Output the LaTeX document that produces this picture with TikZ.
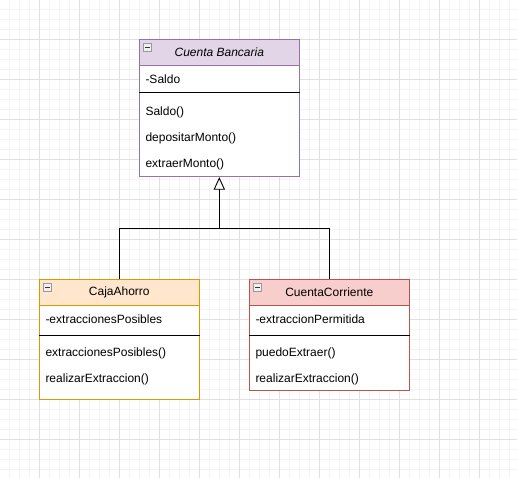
\documentclass[tikz,border=0pt]{standalone}
\usepackage{fontspec}
\setmainfont{Liberation Sans}
\usetikzlibrary{arrows.meta}
\definecolor{lilarand}{HTML}{9673A6}
\definecolor{lilafill}{HTML}{E1D5E7}
\definecolor{orangerand}{HTML}{D79B00}
\definecolor{orangefill}{HTML}{FFE6CC}
\definecolor{rotrand}{HTML}{B85450}
\definecolor{rotfill}{HTML}{F8CECC}
\definecolor{rasterfein}{HTML}{F4F4F4}
\definecolor{rastergrob}{HTML}{E0E0E0}
\tikzset{
  klasse/.style={draw, fill=white, minimum width=160pt, inner sep=0pt, line width=0.8pt},
  kopf/.style={draw, minimum width=160pt, minimum height=25.7pt, inner sep=0pt,
    line width=0.8pt, anchor=north, font=\fontsize{12}{14}\selectfont},
  eintrag/.style={anchor=west, inner sep=0pt, text height=8.6pt, text depth=0pt,
    font=\fontsize{12}{14}\selectfont},
  minus/.style={draw=gray!80, fill=gray!12, minimum size=8pt, inner sep=0pt, line width=0.6pt,
    path picture={\draw[line width=1.3pt, black!80]
      ([xshift=1.8pt]path picture bounding box.west) -- ([xshift=-1.8pt]path picture bounding box.east);}},
  trenner/.style={line width=0.8pt}
}
\begin{document}
\begin{tikzpicture}[x=1pt, y=-1pt, >=latex]
% Hintergrund mit Raster
\fill[white] (0,0) rectangle (517,478);
\useasboundingbox (0,0) rectangle (517,478);
\foreach \x in {9.5,19.5,...,517} {
    \draw[rasterfein, line width=0.8pt] (\x,0) -- (\x,478);
}
\foreach \y in {9.5,19.5,...,478} {
    \draw[rasterfein, line width=0.8pt] (0,\y) -- (517,\y);
}
\foreach \x in {39.5,79.5,...,517} {
    \draw[rastergrob, line width=0.8pt] (\x,0) -- (\x,478);
}
\foreach \y in {39.5,79.5,...,478} {
    \draw[rastergrob, line width=0.8pt] (0,\y) -- (517,\y);
}
% Oberklasse Cuenta Bancaria
\node[klasse, draw=lilarand, minimum height=137.4pt] (bancaria) at (219.3,108) {};
\node[kopf, draw=lilarand, fill=lilafill] (bancariakopf) at (bancaria.north) {\itshape Cuenta Bancaria};
\node[minus] (bancariaminus) at ([xshift=8.7pt, yshift=-8.7pt]bancariakopf.north west) {};
\draw[trenner] (bancaria.west |- 0,92.7) -- (bancaria.east |- 0,92.7);
\foreach \eintragtext/\y [count=\i] in {-Saldo/79.3, Saldo()/111, depositarMonto()/137.3, extraerMonto()/163.3} {
    \node[eintrag] (bancaria-\i) at (145.3,\y) {\eintragtext};
}
% Unterklasse CajaAhorro
\node[klasse, draw=orangerand, minimum height=119.7pt] (caja) at (119.3,339.15) {};
\node[kopf, draw=orangerand, fill=orangefill] (cajakopf) at (caja.north) {CajaAhorro};
\node[minus] (cajaminus) at ([xshift=8.7pt, yshift=-8.7pt]cajakopf.north west) {};
\draw[trenner] (caja.west |- 0,335.3) -- (caja.east |- 0,335.3);
\foreach \eintragtext/\y [count=\i] in {-extraccionesPosibles/319.3, extraccionesPosibles()/352.7, realizarExtraccion()/378.7} {
    \node[eintrag] (caja-\i) at (45.3,\y) {\eintragtext};
}
% Unterklasse CuentaCorriente
\node[klasse, draw=rotrand, minimum height=111.4pt] (corriente) at (329.3,335) {};
\node[kopf, draw=rotrand, fill=rotfill] (corrientekopf) at (corriente.north) {CuentaCorriente};
\node[minus] (corrienteminus) at ([xshift=8.7pt, yshift=-8.7pt]corrientekopf.north west) {};
\draw[trenner] (corriente.west |- 0,335.3) -- (corriente.east |- 0,335.3);
\foreach \eintragtext/\y [count=\i] in {-extraccionPermitida/319.3, puedoExtraer()/352.7, realizarExtraccion()/378.7} {
    \node[eintrag] (corriente-\i) at (255.3,\y) {\eintragtext};
}
% Vererbung
\coordinate (knoten) at (219.3,228.3);
\draw[line width=0.9pt] (caja.north) |- (knoten) -| (corriente.north);
\draw[line width=0.9pt, -{Triangle[open, length=12.6pt, width=11.3pt]}] (knoten) -- (bancaria.south);
\end{tikzpicture}
\end{document}
